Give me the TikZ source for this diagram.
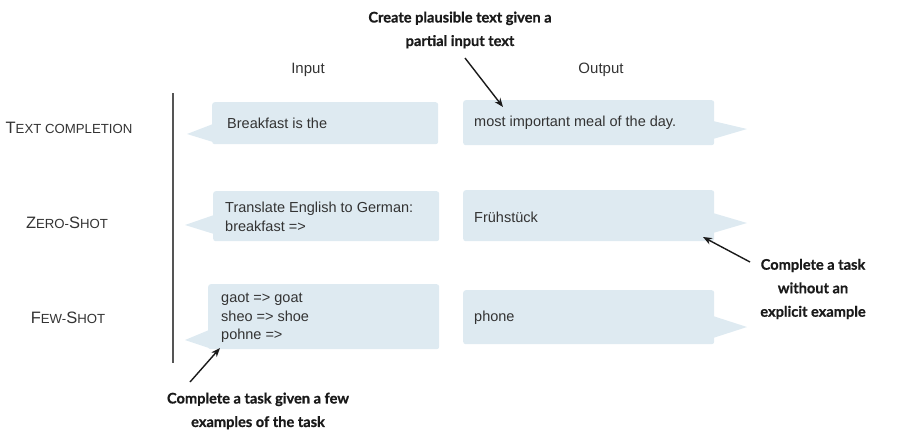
\documentclass[tikz,border=0pt]{standalone}
\usepackage{fontspec}
\setmainfont{Liberation Sans}
\newfontfamily\annofont{Lato}[BoldFeatures={FakeBold=0.8}]
\usetikzlibrary{arrows.meta}
\definecolor{bubblecol}{HTML}{DEEAF1}
\definecolor{textgray}{HTML}{333333}
\definecolor{annogray}{HTML}{1A1A1A}
\definecolor{rulegray}{HTML}{555555}
\newcommand{\bigL}[1]{{\fontsize{16.5}{18}\selectfont #1}}
\newcommand{\smL}[1]{{\fontsize{13.2}{18}\selectfont #1}}
\begin{document}
\begin{tikzpicture}[x=1pt,y=-1pt,
  bubble/.style={fill=bubblecol, rounded corners=2.5pt, inner sep=0pt, anchor=north west},
  tail/.style={fill=bubblecol},
  boxtext/.style={text=textgray, font=\fontsize{14.5}{18.5}\selectfont, align=left, anchor=west, inner sep=0pt},
  header/.style={text=textgray, font=\fontsize{15}{18}\selectfont, inner sep=0pt},
  rowlabel/.style={text=textgray, inner sep=0pt},
  anno/.style={font=\annofont\bfseries\fontsize{14.6}{23.5}\selectfont, align=center, text=annogray, inner sep=0pt},
  pointer/.style={draw=annogray, line width=1.4pt, -{Stealth[length=9pt,width=7pt]}}]
\useasboundingbox (0,0) rectangle (899,440);

% headers
\node[header] (hin) at (308,70) {Input};
\node[header] (hout) at (601,70) {Output};

% row labels
\node[rowlabel] (l1) at (69,128) {\bigL{T}\smL{EXT COMPLETION}};
\node[rowlabel] (l2) at (67,223) {\bigL{Z}\smL{ERO-}\bigL{S}\smL{HOT}};
\node[rowlabel] (l3) at (68,318) {\bigL{F}\smL{EW-}\bigL{S}\smL{HOT}};

% separator
\coordinate (vtop) at (173,93);
\coordinate (vbot) at (173,363);
\draw[rulegray, line width=1.3pt] (vtop) -- (vbot);

% bubbles: row 1
\node[bubble, minimum width=226pt, minimum height=42pt] (in1) at (212,102) {};
\fill[tail] (213,124) -- (187,134) -- (213,142) -- cycle;
\node[bubble, minimum width=251pt, minimum height=45pt] (out1) at (463,100) {};
\fill[tail] (713,121) -- (747,129) -- (713,139) -- cycle;
% row 2
\node[bubble, minimum width=226pt, minimum height=50pt] (in2) at (213,191) {};
\fill[tail] (214,215) -- (185,225) -- (214,234) -- cycle;
\node[bubble, minimum width=251pt, minimum height=51pt] (out2) at (463,190) {};
\fill[tail] (713,213) -- (747,223) -- (713,233) -- cycle;
% row 3
\node[bubble, minimum width=231pt, minimum height=65pt] (in3) at (208,284) {};
\fill[tail] (209,330) -- (185,340) -- (209,348) -- cycle;
\node[bubble, minimum width=251pt, minimum height=54pt] (out3) at (463,290) {};
\fill[tail] (713,316) -- (747,327) -- (713,338) -- cycle;

% texts
\node[boxtext] (tin1) at (227,123) {Breakfast is the};
\node[boxtext] (tout1) at (474,123) {most important meal of the day.};
\node[boxtext] (tin2) at (225,217) {Translate English to German:\\breakfast =>};
\node[boxtext] (tout2) at (474,217) {Frühstück};
\node[boxtext] (tin3) at (221,318) {gaot => goat\\sheo => shoe\\pohne =>};
\node[boxtext] (tout3) at (474,318) {phone};

% annotations
\node[anno] (a1) at (460,30) {Create plausible text given a\\partial input text};
\node[anno] (a2) at (813,289) {Complete a task\\without an\\explicit example};
\node[anno] (a3) at (258,411) {Complete a task given a few\\examples of the task};

\coordinate (a1s) at (465,58);
\coordinate (a1e) at (503,107);
\coordinate (a2s) at (750,262);
\coordinate (a2e) at (703,237);
\coordinate (a3s) at (190,382);
\coordinate (a3e) at (220,348);
\draw[pointer] (a1s) -- (a1e);
\draw[pointer] (a2s) -- (a2e);
\draw[pointer] (a3s) -- (a3e);
\end{tikzpicture}
\end{document}
